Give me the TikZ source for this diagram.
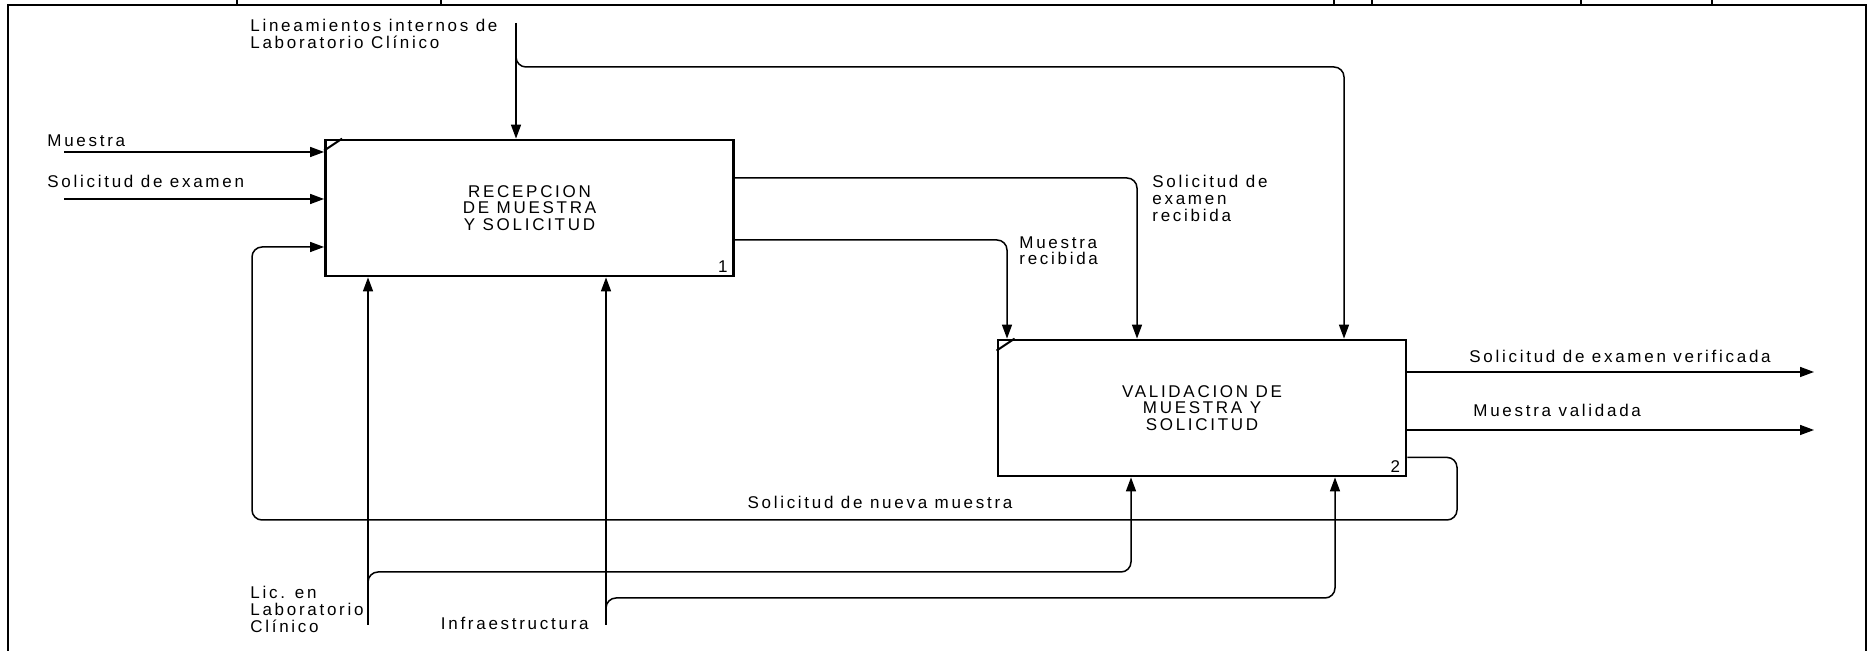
\documentclass[tikz,border=0pt]{standalone}
\usepackage{fontspec}
\setmainfont{Liberation Sans}[LetterSpace=16]
\usetikzlibrary{arrows.meta, positioning}

\begin{document}
\begin{tikzpicture}[x=0.5pt, y=-0.5pt,
            proc/.style={rectangle, draw, line width=1.4pt, minimum width=204pt,
                         minimum height=68pt, inner sep=0pt, align=center,
                         font=\fontsize{8.5}{8.35}\selectfont},
            lbl/.style={inner sep=0pt, align=left, font=\fontsize{8.5}{8.35}\selectfont},
            arr/.style={-{Triangle[length=7pt, width=5pt]}, line width=0.75pt,
                        rounded corners=5pt},
            frame/.style={line width=1pt}]
          \useasboundingbox (0,0) rectangle (1869,651);
          % frame and header row
          \draw[frame] (8,651) -- (8,5) -- (1866,5) -- (1866,651);
          \foreach \x in {237,441,1334,1372,1581,1712}
            \draw[frame] (\x,0) -- (\x,5);
          % activities
          \node[proc] (recep) at (529.5,208) {RECEPCION\\DE MUESTRA\\Y SOLICITUD};
          \node[proc] (valid) at (1202,408) {VALIDACION DE\\MUESTRA Y\\SOLICITUD};
          \node[lbl, anchor=south east] (n1) at ([xshift=-3.5pt, yshift=2pt]recep.south east) {1};
          \node[lbl, anchor=south east] (n2) at ([xshift=-3.5pt, yshift=2pt]valid.south east) {2};
          \draw[line width=1pt] ([yshift=-6pt]recep.north west) -- ([xshift=9pt]recep.north west);
          \draw[line width=1pt] ([yshift=-6pt]valid.north west) -- ([xshift=9pt]valid.north west);
          % inputs
          \coordinate (muestraIn) at (64,152);
          \coordinate (solIn) at (64,199);
          \node[lbl, anchor=base west] (lMuestra) at (47,147) {Muestra};
          \node[lbl, anchor=base west] (lSol) at (47,188) {Solicitud de examen};
          \draw[arr] (muestraIn) -- (muestraIn -| recep.west);
          \draw[arr] (solIn) -- (solIn -| recep.west);
          % controls
          \coordinate (linTop) at (516,23);
          \coordinate (linBr) at (516,55);
          \coordinate (linR) at (1344,67);
          \node[lbl, anchor=north west] (lLin) at (250,19) {Lineamientos internos de\\Laboratorio Clínico};
          \draw[arr] (linTop) -- (linTop |- recep.north);
          \draw[arr] (linBr) |- (linR) -- (linR |- valid.north);
          % outputs of 1
          \coordinate (serTurn) at (1137,178);
          \coordinate (mrTurn) at (1007,240);
          \draw[arr] (recep.east |- serTurn) -| (serTurn |- valid.north);
          \draw[arr] (recep.east |- mrTurn) -| (mrTurn |- valid.north);
          \node[lbl, anchor=north west] (lSer) at (1152,175) {Solicitud de\\examen\\recibida};
          \node[lbl, anchor=north west] (lMr) at (1019,236) {Muestra\\recibida};
          % mechanisms
          \coordinate (licBot) at (368,625);
          \coordinate (licBr) at (368,584);
          \coordinate (licR) at (1131,572);
          \coordinate (infBot) at (606,625);
          \coordinate (infBr) at (606,610);
          \coordinate (infR) at (1335,598);
          \draw[arr] (licBot) -- (licBot |- recep.south);
          \draw[arr] (infBot) -- (infBot |- recep.south);
          \draw[arr] (licBr) |- (licR) -- (licR |- valid.south);
          \draw[arr] (infBr) |- (infR) -- (infR |- valid.south);
          \node[lbl, anchor=north west] (lLic) at (250,586) {Lic. en\\Laboratorio\\Clínico};
          \node[lbl, anchor=base east] (lInf) at (589,630) {Infraestructura};
          % outputs of 2
          \coordinate (sevEnd) at (1814,372);
          \coordinate (mvEnd) at (1814,430);
          \draw[arr] (valid.east |- sevEnd) -- (sevEnd);
          \draw[arr] (valid.east |- mvEnd) -- (mvEnd);
          \node[lbl, anchor=base west] (lSev) at (1469,363) {Solicitud de examen verificada};
          \node[lbl, anchor=base west] (lMv) at (1473,417) {Muestra validada};
          % feedback
          \coordinate (fbR) at (1457,520);
          \coordinate (fbL) at (252,520);
          \draw[arr] ([yshift=10pt]valid.south east) -| (fbR) -- (fbL) |- ([yshift=-19.5pt]recep.west);
          \node[lbl, anchor=base] (lFb) at (880,509) {Solicitud de nueva muestra};
        \end{tikzpicture}
\end{document}
